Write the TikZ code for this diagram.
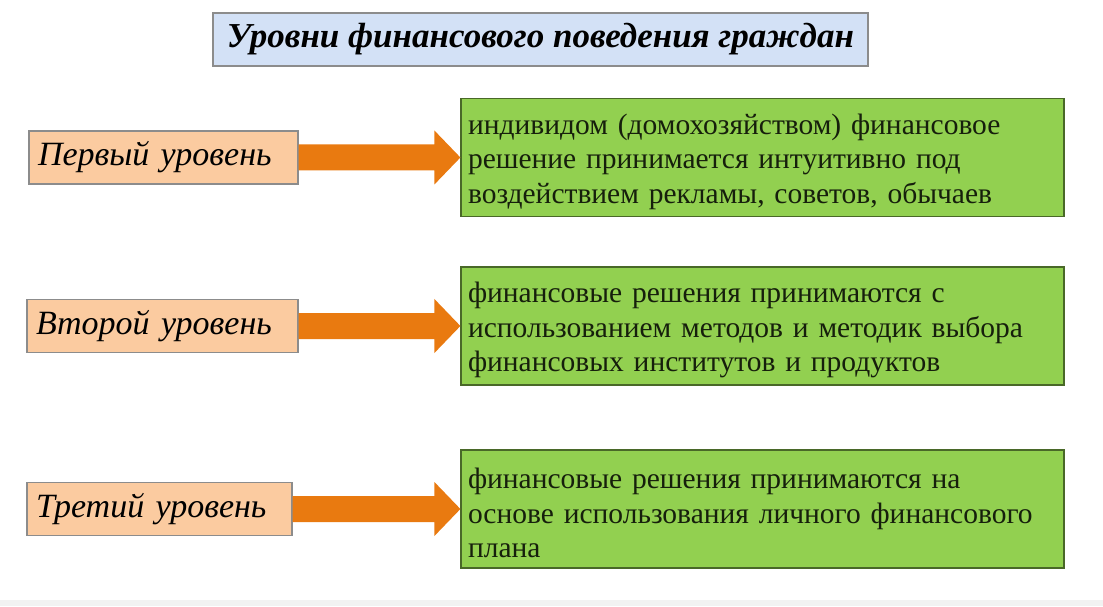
\documentclass[tikz,border=0pt]{standalone}
\usepackage{fontspec}
\setmainfont{Liberation Serif}
\usetikzlibrary{calc}
\definecolor{peach}{HTML}{FBCBA0}
\definecolor{arrowor}{HTML}{E97A10}
\definecolor{leaf}{HTML}{92D050}
\definecolor{skyblue}{HTML}{D3E1F6}
\tikzset{
	level/.style={draw=black!45, line width=1.2pt, fill=peach, minimum height=53pt, inner xsep=9pt, inner ysep=0pt,
		align=left, font=\fontsize{34}{40}\selectfont\itshape},
	answer/.style={draw=black!50!leaf, line width=1.2pt, fill=leaf, minimum width=603pt, minimum height=118pt,
		text width=589pt, align=left, inner sep=0pt, font=\fontsize{29.5}{34.5}\selectfont, text=black!85!leaf,
		execute at end node={\par\vspace{-8pt}}},
	blockarrow/.style={fill=arrowor},
}
\begin{document}
\begin{tikzpicture}[x=1pt,y=1pt]
	\useasboundingbox (0,0) rectangle (1103,606);
	\fill[black!5] (0,0) rectangle (1103,6);
	% title
	\node[draw=black!45, line width=1.2pt, fill=skyblue, minimum width=655pt, minimum height=53pt, inner sep=0pt,
		font=\fontsize{35}{40}\selectfont\bfseries\itshape] (title) at (540.5,566.5) {Уровни финансового поведения граждан};
	% levels
	\node[level, text width=251pt] (lev1) at (163.5,448.5) {Первый уровень};
	\node[level, text width=253pt] (lev2) at (162.5,280) {Второй уровень};
	\node[level, text width=247pt] (lev3) at (159.5,97) {Третий уровень};
	% descriptions
	\node[answer] (ans1) at (762.5,448.5) {индивидом (домохозяйством) финансовое\\решение принимается интуитивно под\\воздействием рекламы, советов, обычаев};
	\node[answer] (ans2) at (762.5,280) {финансовые решения принимаются с\\использованием методов и методик выбора\\финансовых институтов и продуктов};
	\node[answer] (ans3) at (762.5,97) {финансовые решения принимаются на\\основе использования личного финансового\\плана};
	% arrows
	\foreach \n in {1,2,3}{%
		\fill[blockarrow] (lev\n.east) ++(0,13) -- ($(ans\n.west)+(-26,13)$) -- ++(0,14) -- (ans\n.west)
			-- ++(-26,-27) -- ++(0,14) -- ($(lev\n.east)+(0,-13)$) -- cycle;
		}
\end{tikzpicture}
\end{document}
